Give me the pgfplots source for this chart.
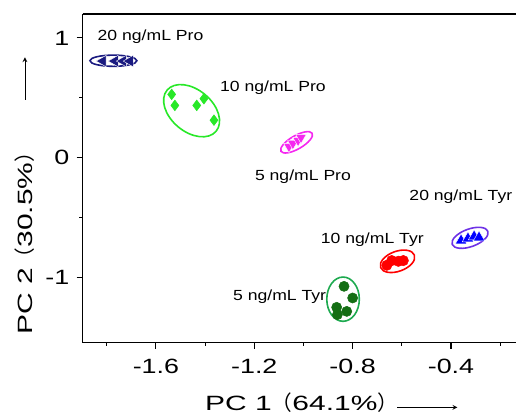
\documentclass[border=0pt]{standalone}
\usepackage{fontspec}
\setmainfont{Liberation Sans}
\newfontfamily\annfont{Liberation Sans}[FakeStretch=1.2]
\newfontfamily\tickfont{Liberation Sans}[FakeStretch=1.3]
\newfontfamily\labfont{Liberation Sans}[FakeStretch=1.45]
\newfontfamily\cjk{Noto Sans CJK SC}
\usepackage{pgfplots}
\pgfplotsset{compat=1.18}

\definecolor{cNavy}{RGB}{26,26,128}
\definecolor{cLime}{RGB}{40,232,40}
\definecolor{cMag}{RGB}{245,40,240}
\definecolor{cBlue}{RGB}{0,0,255}
\definecolor{cViolet}{RGB}{110,50,230}
\definecolor{cRed}{RGB}{255,0,0}
\definecolor{cDGreen}{RGB}{20,110,20}
\definecolor{cMGreen}{RGB}{30,170,80}

\begin{document}
\begin{tikzpicture}
\begin{axis}[
    scale only axis,
    width=325pt, height=246.5pt,
    xmin=-1.898, xmax=-0.1356,
    ymin=-1.543, ymax=1.20,
    axis x line=box, axis y line=left,
    axis line style={-, line width=1.2pt, black},
    xtick pos=bottom, ytick pos=left,
    tick align=outside,
    major tick length=4.5pt, minor tick length=2.5pt,
    every tick/.style={black, line width=0.8pt},
    xtick={-1.6,-1.2,-0.8,-0.4},
    ytick={-1,0,1},
    minor xtick={-1.8,-1.4,-1.0,-0.6,-0.2},
    minor ytick={-0.5,0.5},
    /pgf/number format/assume math mode=true,
    xticklabel style={font=\tickfont\fontsize{15.5}{16}\selectfont, yshift=-4pt},
    yticklabel style={font=\tickfont\fontsize{15.5}{16}\selectfont, xshift=-2pt},
    clip=false,
]
% 20 ng/mL Pro
\addplot[only marks, mark=triangle*, mark size=5pt, color=cNavy,
    mark options={rotate=90, fill=cNavy, draw=white, line width=0.3pt}]
    coordinates {(-1.816,0.807) (-1.767,0.807) (-1.734,0.807) (-1.706,0.807)};
% 10 ng/mL Pro
\addplot[only marks, mark=diamond*, mark size=4pt, color=cLime]
    coordinates {(-1.536,0.529) (-1.523,0.437) (-1.434,0.437) (-1.405,0.493) (-1.364,0.314)};
% 5 ng/mL Pro
\addplot[only marks, mark=triangle*, mark size=4.6pt, color=cMag,
    mark options={rotate=180, fill=cMag, draw=white, line width=0.3pt}]
    coordinates {(-1.059,0.094) (-1.043,0.119) (-1.022,0.145) (-1.010,0.170)};
% 20 ng/mL Tyr
\addplot[only marks, mark=triangle*, mark size=5pt, color=cBlue,
    mark options={fill=cBlue, draw=white, line width=0.3pt}]
    coordinates {(-0.359,-0.691) (-0.331,-0.674) (-0.306,-0.657) (-0.286,-0.666)};
% 10 ng/mL Tyr
\addplot[only marks, mark=*, mark size=3.9pt, color=cRed]
    coordinates {(-0.661,-0.897) (-0.641,-0.858) (-0.614,-0.864) (-0.594,-0.858)};
% 5 ng/mL Tyr
\addplot[only marks, mark=*, mark size=3.8pt, color=cDGreen]
    coordinates {(-0.835,-1.073) (-0.800,-1.170) (-0.865,-1.248) (-0.824,-1.282) (-0.862,-1.309)};

% group outlines
\draw[cNavy, line width=1.2pt] (axis cs:-1.773,0.810) ellipse [x radius=17.6pt, y radius=4.2pt];
\draw[cLime, line width=1.2pt, rotate around={-40:(axis cs:-1.455,0.393)}]
    (axis cs:-1.455,0.393) ellipse [x radius=24pt, y radius=15.75pt];
\draw[cMag, line width=1.2pt, rotate around={30:(axis cs:-1.028,0.129)}]
    (axis cs:-1.028,0.129) ellipse [x radius=13.5pt, y radius=5pt];
\draw[cViolet, line width=1.2pt, rotate around={20:(axis cs:-0.3225,-0.668)}]
    (axis cs:-0.3225,-0.668) ellipse [x radius=14.25pt, y radius=6.6pt];
\draw[cRed, line width=1.2pt, rotate around={20:(axis cs:-0.6175,-0.864)}]
    (axis cs:-0.6175,-0.864) ellipse [x radius=13.5pt, y radius=7.5pt];
\draw[cMGreen, line width=1.2pt] (axis cs:-0.839,-1.180) ellipse [x radius=12.2pt, y radius=16.6pt];

% group names
\begin{scope}[every node/.style={font=\annfont\fontsize{11}{12}\selectfont, inner sep=0pt}]
\node at (axis cs:-1.622,1.013) {20 ng/mL Pro};
\node[anchor=west] at (axis cs:-1.340,0.587) {10 ng/mL Pro};
\node at (axis cs:-1.002,-0.156) {5 ng/mL Pro};
\node[anchor=west] at (axis cs:-0.570,-0.321) {20 ng/mL Tyr};
\node[anchor=west] at (axis cs:-0.930,-0.683) {10 ng/mL Tyr};
\node[anchor=west] at (axis cs:-1.287,-1.159) {5 ng/mL Tyr};
\end{scope}

\coordinate (sw) at (rel axis cs:0,0);
\coordinate (ne) at (rel axis cs:1,1);
\end{axis}

% axis titles with their arrows
\node[anchor=base west, inner sep=0pt, font=\labfont\fontsize{15.5}{16}\selectfont]
    at ([xshift=91.7pt, yshift=-50.5pt]sw) {PC 1{\cjk （}64.1\%{\cjk ）}};
\draw[-stealth, line width=0.6pt] ([xshift=236pt, yshift=-48.5pt]sw) -- ++(45pt,0);
\node[anchor=west, rotate=90, inner sep=0pt, font=\labfont\fontsize{15.5}{16}\selectfont]
    at ([xshift=-43.3pt, yshift=5.8pt]sw) {PC 2{\cjk （}30.5\%{\cjk ）}};
\draw[-stealth, line width=0.6pt] ([xshift=-43.3pt, yshift=182pt]sw) -- ++(0,32pt);

\pgfresetboundingbox
\useasboundingbox ([xshift=-62pt, yshift=-52.7pt]sw) rectangle ([yshift=10.5pt]ne);
\end{tikzpicture}
\end{document}
